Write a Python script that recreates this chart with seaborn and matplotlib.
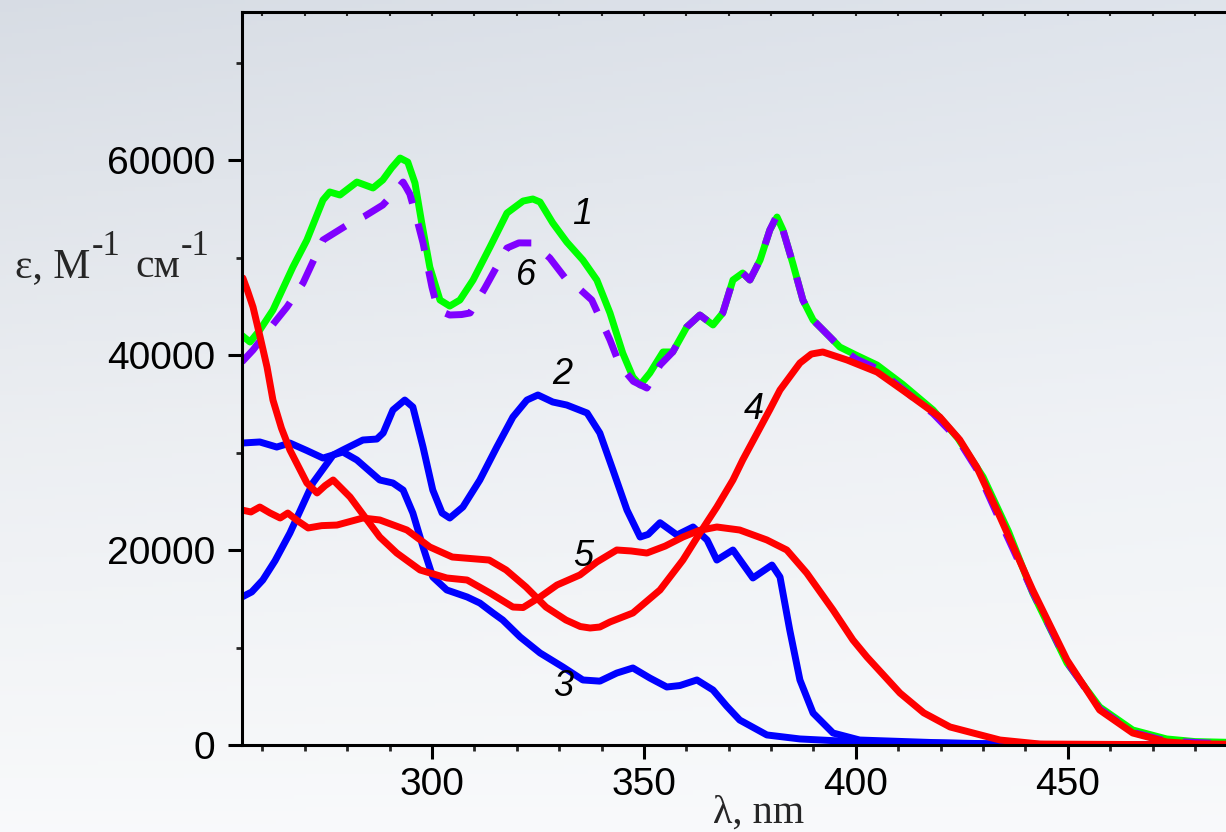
import numpy as np
import pandas as pd
import matplotlib
matplotlib.use("Agg")
import matplotlib.pyplot as plt
import seaborn as sns
from matplotlib.ticker import MultipleLocator

# ---------------- data ----------------
c1_x = [255.2, 257.1, 259.4, 262.5, 267.2, 270.5, 274.3, 275.9, 278.3, 282.3, 286.1, 288.4, 290.5,
        292.5, 294.3, 296.0, 297.6, 299.5, 301.9, 304.2, 306.6, 309.7, 313.7, 317.7, 321.5, 323.8,
        325.5, 328.5, 331.8, 335.6, 338.9, 342.0, 345.0, 347.4, 349.1, 351.4, 354.5, 356.8, 360.1,
        363.2, 366.3, 368.6, 371.0, 373.3, 375.0, 377.4, 379.7, 381.4, 382.8, 385.1, 387.5, 389.9,
        393.9, 396.2, 400.0, 405.0, 411.0, 418.2, 424.0, 430.0, 436.0, 441.7, 449.8, 457.5, 465.3,
        473.3, 480.0, 487.3]
c1_y = [42000, 41330, 42560, 44610, 49020, 51790, 55900, 56720, 56410, 57740, 57130, 57950, 59200,
        60200, 59790, 57640, 53540, 49020, 45640, 45020, 45640, 47690, 51080, 54560, 55790, 56000,
        55690, 53540, 51590, 49740, 47690, 44310, 40200, 37740, 36920, 38150, 40310, 40310, 42870,
        44100, 43080, 44310, 47690, 48410, 47690, 49740, 52820, 54150, 52820, 49430, 45640, 43590,
        41840, 40820, 40000, 38970, 37000, 34360, 31500, 27490, 21900, 15590, 8410, 3900, 1540,
        620, 350, 280]

c2_x = [255.2, 257.5, 260.1, 263.0, 266.5, 271.9, 276.7, 279.0, 283.7, 287.0, 288.5, 290.8, 293.6,
        295.5, 297.9, 300.2, 302.4, 304.2, 307.3, 311.3, 315.3, 319.1, 322.4, 325.0, 328.5, 331.8,
        336.6, 339.6, 342.7, 346.0, 349.1, 351.0, 353.8, 357.8, 361.6, 364.9, 367.2, 371.0, 375.7,
        380.2, 382.1, 384.4, 386.8, 389.9, 394.6, 400.9, 418.2, 434.0, 450.0, 487.3]
c2_y = [15180, 15700, 16920, 18900, 21740, 26870, 29740, 30260, 31280, 31380, 32000, 34360, 35380,
        34670, 30560, 26150, 23790, 23280, 24410, 27180, 30560, 33640, 35380, 35900, 35180, 34870,
        34050, 32000, 28200, 24100, 21330, 21600, 22800, 21540, 22360, 21030, 18970, 20000, 17130,
        18460, 17230, 11790, 6670, 3280, 1230, 510, 250, 100, 30, 0]

c3_x = [255.2, 259.4, 263.4, 266.5, 270.5, 274.3, 279.0, 282.3, 287.7, 290.8, 293.2, 295.5, 297.9,
        300.2, 303.5, 308.3, 311.3, 314.4, 316.7, 320.8, 325.5, 330.9, 335.6, 339.6, 343.6, 347.4,
        351.4, 355.4, 358.5, 362.5, 366.3, 369.5, 372.6, 379.0, 386.8, 400.9, 434.0, 450.0, 487.3]
c3_y = [30970, 31080, 30560, 30970, 30200, 29430, 30050, 29230, 27180, 26870, 26150, 23790, 20310,
        17230, 15900, 15180, 14560, 13540, 12820, 11080, 9440, 8000, 6670, 6550, 7380, 7900,
        6870, 5950, 6100, 6670, 5640, 4000, 2560, 1030, 620, 310, 100, 30, 0]

c4_x = [255.2, 257.3, 259.4, 261.8, 264.2, 266.0, 268.3, 270.8, 274.0, 277.6, 283.7, 287.7, 294.1,
        299.5, 304.8, 313.5, 317.5, 322.2, 326.9, 331.6, 335.0, 337.3, 339.6, 342.0, 347.4, 353.8,
        359.2, 363.2, 367.2, 371.0, 373.3, 379.7, 382.1, 386.8, 389.5, 392.2, 397.9, 405.0, 412.0,
        419.8, 424.5, 428.5, 434.0, 441.7, 449.8, 457.5, 465.3, 473.3, 480.0, 487.3]
c4_y = [24100, 23900, 24410, 23800, 23280, 23790, 23000, 22260, 22500, 22560, 23280, 23080, 22050,
        20310, 19280, 18970, 17950, 16200, 14150, 12820, 12150, 12000, 12100, 12620, 13540, 15900,
        18970, 21740, 24410, 27180, 29230, 34400, 36410, 39180, 40100, 40310, 39490, 38250, 36100,
        33640, 31300, 28510, 23380, 15900, 8720, 3590, 1230, 310, 120, 80]

c5_x = [255.4, 256.5, 257.8, 259.5, 261.1, 262.5, 264.5, 266.5, 270.5, 272.9, 274.8, 276.7, 280.7,
        284.7, 287.7, 291.7, 297.2, 303.5, 308.3, 313.7, 319.1, 321.5, 325.5, 329.5, 334.9, 338.9,
        343.6, 347.0, 350.7, 355.0, 359.2, 363.0, 367.2, 372.6, 379.0, 383.7, 388.4, 394.6, 399.3,
        402.6, 410.4, 416.0, 422.2, 434.0, 443.4, 487.3]
c5_y = [47900, 46600, 44920, 41800, 38770, 35380, 32500, 30260, 26870, 25850, 26600, 27180, 25430,
        23080, 21330, 19690, 17950, 17130, 16920, 15590, 14150, 14100, 15180, 16410, 17440, 18770,
        20000, 19900, 19690, 20400, 21330, 22000, 22360, 22050, 21030, 20000, 17640, 13850, 10770,
        9030, 5330, 3300, 1850, 510, 100, 0]

c6_x = [255.2, 257.8, 261.5, 265.8, 269.6, 274.3, 280.0, 284.0, 288.4, 291.0, 293.2, 294.8, 296.5,
        297.9, 300.0, 301.4, 304.2, 307.0, 309.0, 312.5, 317.7, 320.5, 323.8, 327.8, 331.8, 335.0,
        337.7, 342.0, 344.3, 347.5, 350.7, 353.8, 356.8, 360.1, 363.2, 366.3, 368.6, 371.0, 373.3,
        375.0, 377.4, 379.7, 381.4, 382.8, 385.1, 387.5, 389.9, 393.9, 396.2, 400.0, 405.0, 411.0,
        418.2, 424.0, 428.5, 434.0, 441.7, 449.8, 457.5, 465.3, 473.3, 487.3]
c6_y = [39300, 40510, 42600, 44920, 47380, 51790, 53330, 54200, 55380, 56600, 57740, 56500, 53850,
        51490, 46970, 44610, 44100, 44150, 44310, 46870, 50970, 51500, 51490, 49950, 47690, 46700,
        45640, 41540, 38970, 37300, 36610, 38970, 40310, 42870, 44100, 43080, 44310, 47690, 48410,
        47690, 49740, 52820, 54350, 52820, 49430, 45640, 43590, 41840, 40820, 39600, 38600, 36500,
        34000, 31400, 28300, 23000, 15700, 8500, 3700, 1300, 400, 120]

labels = ["1", "2", "3", "4", "5", "6"]
label_x = [335.4, 330.7, 330.9, 375.9, 335.6, 322.2]
label_y = [54360, 37950, 6050, 34460, 19380, 48200]

x_ticks = [300, 350, 400, 450]
y_ticks = [0, 20000, 40000, 60000]

# ---------------- styling ----------------
sns.set_style("ticks")
plt.rcParams['font.family'] = ['Liberation Sans', 'DejaVu Sans']

W, H = 1226, 832
fig = plt.figure(figsize=(W / 100, H / 100), dpi=100)

# soft background gradient
bg = fig.add_axes([0, 0, 1, 1], zorder=-10)
yy = np.linspace(0, 1, 200)[:, None]
xx = np.linspace(0, 1, 200)[None, :]
top = np.array([0.86, 0.88, 0.91])
mid = np.array([0.93, 0.94, 0.955])
bot = np.array([0.975, 0.98, 0.985])
t = yy + 0 * xx
img = np.where(t[..., None] < 0.5,
               top + (mid - top) * (t[..., None] / 0.5),
               mid + (bot - mid) * ((t[..., None] - 0.5) / 0.5))
img = img + 0.03 * (xx[..., None] - 0.5) * (1 - t[..., None])
bg.imshow(np.clip(img, 0, 1), aspect='auto', extent=[0, 1, 0, 1], origin='upper')
bg.set_axis_off()

ax = fig.add_axes([242 / W, 1 - 745 / H, (W - 242) / W, (745 - 12) / H])
ax.set_facecolor('none')

LW = 5.0
series = [
    (c1_x, c1_y, '#00ff00', '-'),
    (c6_x, c6_y, '#8000ff', (0, (4.0, 3.0))),
    (c2_x, c2_y, '#0000ff', '-'),
    (c3_x, c3_y, '#0000ff', '-'),
    (c5_x, c5_y, '#ff0000', '-'),
    (c4_x, c4_y, '#ff0000', '-'),
]
for xs, ys, col, ls in series:
    df = pd.DataFrame({'x': xs, 'y': ys})
    sns.lineplot(data=df, x='x', y='y', ax=ax, color=col, linewidth=LW,
                 linestyle=ls, sort=False, estimator=None,
                 solid_joinstyle='round', solid_capstyle='round',
                 dash_capstyle='butt', dash_joinstyle='round')

for s, lx, ly in zip(labels, label_x, label_y):
    ax.text(lx, ly, s, fontsize=26, fontstyle='italic', ha='center', va='center', color='black')

ax.set_xlim(255.2, 487.3)
ax.set_ylim(0, 75180)
ax.xaxis.set_major_locator(MultipleLocator(50))
ax.xaxis.set_minor_locator(MultipleLocator(10))
ax.yaxis.set_major_locator(MultipleLocator(20000))
ax.yaxis.set_minor_locator(MultipleLocator(10000))
ax.set_xticks(x_ticks)
ax.set_yticks(y_ticks)
ax.set_xticklabels([str(v) for v in x_ticks])
ax.set_yticklabels([str(v) for v in y_ticks])
ax.set_xlabel('')
ax.set_ylabel('')

for sp in ['left', 'bottom', 'top']:
    ax.spines[sp].set_linewidth(2.2)
    ax.spines[sp].set_color('black')
ax.spines['right'].set_visible(False)

ax.tick_params(axis='both', which='major', direction='out', length=10, width=2.2,
               labelsize=28, colors='black')
ax.tick_params(axis='both', which='minor', direction='out', length=4.5, width=2.0)
ax.tick_params(axis='x', which='major', pad=6)
ax.tick_params(axis='y', which='major', pad=9)

secx = ax.secondary_xaxis('top')
secx.xaxis.set_major_locator(MultipleLocator(10))
secx.tick_params(axis='x', which='major', direction='in', length=3, width=1.5, labeltop=False)
secx.spines['top'].set_visible(False)

# axis titles (serif, horizontal y title)
def fx(px):
    return px / W

def fy(py):
    return 1 - py / H

serif = ['Liberation Serif', 'DejaVu Serif']
fig.text(fx(15), fy(277), 'ε, M', fontsize=30, family=serif, ha='left', va='baseline')
fig.text(fx(92), fy(255), '-1', fontsize=25, family=serif, ha='left', va='baseline')
fig.text(fx(135), fy(277), 'см', fontsize=30, family=serif, ha='left', va='baseline')
fig.text(fx(181), fy(255), '-1', fontsize=25, family=serif, ha='left', va='baseline')
fig.text(fx(759), fy(823), 'λ, nm', fontsize=29, family=serif, ha='center', va='baseline')

fig.savefig('out.png', dpi=100)
